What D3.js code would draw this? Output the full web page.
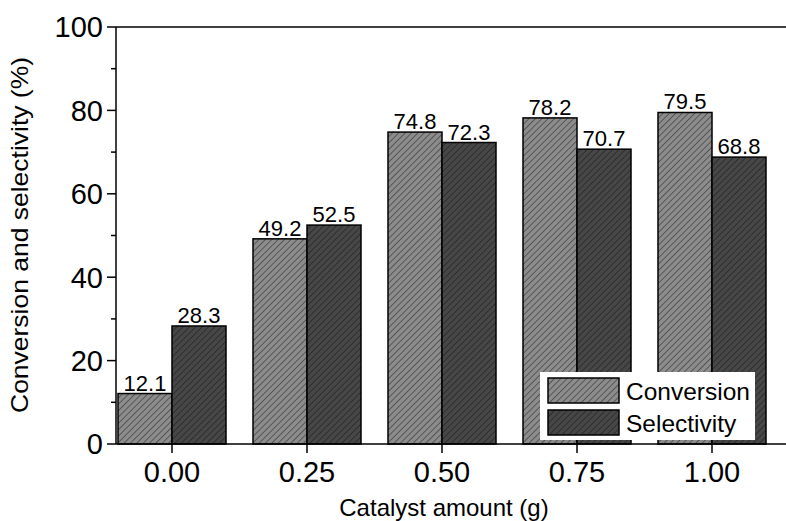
<!DOCTYPE html>
<html>
  <head>
    <meta charset="UTF-8" />
    <script src="https://d3js.org/d3.v7.min.js"></script>
    <style>
      body { margin: 0; background: #fff; }
      text { font-family: "Liberation Sans", Arial, sans-serif; }
    </style>
  </head>
  <body>
    <svg width="786" height="521"></svg>
    <script>
      var categories = ["0.00", "0.25", "0.50", "0.75", "1.00"];
      var conversion = [12.1, 49.2, 74.8, 78.2, 79.5];
      var selectivity = [28.3, 52.5, 72.3, 70.7, 68.8];
      var seriesNames = ["Conversion", "Selectivity"];
      var yTicks = [0, 20, 40, 60, 80, 100];

      var svg = d3.select("svg");
      var mLeft = 116, mTop = 27, mBottom = 444, mRight = 806;

      // hatch patterns, lines running "///"
      var defs = svg.append("defs");
      var fills = { Conversion: "#8c8c8c", Selectivity: "#474747" };
      var lines = { Conversion: "#333", Selectivity: "#1e1e1e" };
      seriesNames.forEach(function (s) {
        var p = defs.append("pattern")
          .attr("id", "hatch-" + s)
          .attr("patternUnits", "userSpaceOnUse")
          .attr("width", 4.5).attr("height", 4.5)
          .attr("patternTransform", "rotate(45)");
        p.append("rect").attr("width", 4.5).attr("height", 4.5).attr("fill", fills[s]);
        p.append("line").attr("x1", 0).attr("y1", 0).attr("x2", 0).attr("y2", 4.5)
          .attr("stroke", lines[s]).attr("stroke-width", 1.2);
      });

      var xc = d3.scalePoint().domain(categories).range([172, 712]);
      var barW = 54;
      var y = d3.scaleLinear().domain([0, 100]).range([mBottom, mTop]);

      var data = categories.map(function (c, i) {
        return { cat: c, values: [
          { key: "Conversion", value: conversion[i] },
          { key: "Selectivity", value: selectivity[i] }
        ] };
      });

      var groups = svg.append("g").selectAll("g").data(data).enter().append("g")
        .attr("transform", function (d) { return "translate(" + xc(d.cat) + ",0)"; });

      groups.selectAll("rect").data(function (d) { return d.values; }).enter()
        .append("rect")
        .attr("x", function (d, i) { return i === 0 ? -barW : 0; })
        .attr("y", function (d) { return y(d.value); })
        .attr("width", barW)
        .attr("height", function (d) { return y(0) - y(d.value); })
        .attr("fill", function (d) { return "url(#hatch-" + d.key + ")"; })
        .attr("stroke", "#000").attr("stroke-width", 1.5);

      groups.selectAll("text.val").data(function (d) { return d.values; }).enter()
        .append("text").attr("class", "val")
        .attr("x", function (d, i) { return i === 0 ? -barW / 2 : barW / 2; })
        .attr("y", function (d) { return y(d.value) - 3; })
        .attr("text-anchor", "middle")
        .attr("font-size", 22)
        .text(function (d) { return d.value.toFixed(1); });

      // frame top
      svg.append("line").attr("x1", mLeft).attr("x2", mRight).attr("y1", mTop).attr("y2", mTop)
        .attr("stroke", "#000").attr("stroke-width", 1.5);

      // y axis
      var yAxis = svg.append("g").attr("transform", "translate(" + mLeft + ",0)");
      yAxis.append("line").attr("x1", 0).attr("x2", 0).attr("y1", mTop).attr("y2", mBottom)
        .attr("stroke", "#000").attr("stroke-width", 1.5);
      var minor = d3.range(10, 100, 20);
      yAxis.selectAll("line.minor").data(minor).enter().append("line")
        .attr("x1", -5).attr("x2", 0)
        .attr("y1", function (d) { return y(d); }).attr("y2", function (d) { return y(d); })
        .attr("stroke", "#000").attr("stroke-width", 1.5);
      yAxis.selectAll("line.major").data(yTicks).enter().append("line")
        .attr("x1", -9).attr("x2", 0)
        .attr("y1", function (d) { return y(d); }).attr("y2", function (d) { return y(d); })
        .attr("stroke", "#000").attr("stroke-width", 1.5);
      yAxis.selectAll("text").data(yTicks).enter().append("text")
        .attr("x", -13).attr("y", function (d) { return y(d); })
        .attr("dy", "0.36em").attr("text-anchor", "end")
        .attr("font-size", 29).text(function (d) { return d; });

      // x axis
      var xAxis = svg.append("g").attr("transform", "translate(0," + mBottom + ")");
      xAxis.append("line").attr("x1", mLeft).attr("x2", mRight).attr("y1", 0).attr("y2", 0)
        .attr("stroke", "#000").attr("stroke-width", 1.5);
      xAxis.selectAll("line.tick").data(categories).enter().append("line")
        .attr("x1", function (d) { return xc(d); }).attr("x2", function (d) { return xc(d); })
        .attr("y1", 0).attr("y2", 9)
        .attr("stroke", "#000").attr("stroke-width", 1.5);
      xAxis.selectAll("text").data(categories).enter().append("text")
        .attr("x", function (d) { return xc(d); }).attr("y", 38)
        .attr("text-anchor", "middle").attr("font-size", 29)
        .text(function (d) { return d; });

      svg.append("text").attr("x", 444).attr("y", 516)
        .attr("text-anchor", "middle").attr("font-size", 24)
        .text("Catalyst amount (g)");
      svg.append("text")
        .attr("transform", "translate(28," + 235 + ") rotate(-90)")
        .attr("text-anchor", "middle").attr("font-size", 24)
        .attr("textLength", 356).attr("lengthAdjust", "spacingAndGlyphs")
        .text("Conversion and selectivity (%)");

      // legend
      var lg = svg.append("g").attr("transform", "translate(540,372)");
      lg.append("rect").attr("width", 215).attr("height", 68).attr("fill", "#fff");
      var items = lg.selectAll("g").data(seriesNames).enter().append("g")
        .attr("transform", function (d, i) { return "translate(8," + (6 + i * 32) + ")"; });
      items.append("rect").attr("width", 71).attr("height", 25)
        .attr("fill", function (d) { return "url(#hatch-" + d + ")"; })
        .attr("stroke", "#000").attr("stroke-width", 1.5);
      items.append("text").attr("x", 78).attr("y", 13).attr("dy", "0.35em")
        .attr("font-size", 24.5).text(function (d) { return d; });
    </script>
  </body>
</html>
